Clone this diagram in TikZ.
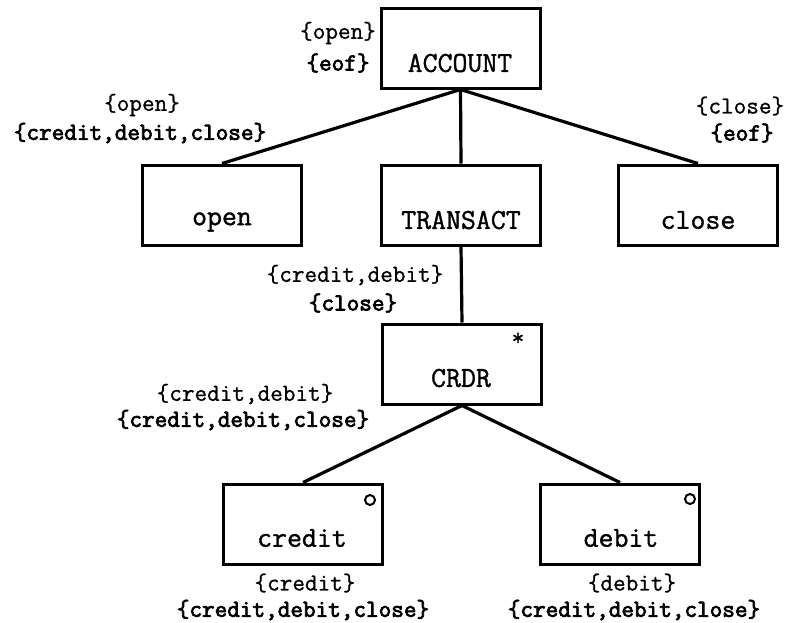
\documentclass[tikz,border=0pt]{standalone}
\usepackage{fontspec}
\newfontfamily\boxfont{Latin Modern Mono}[FakeBold=1.2]
\newfontfamily\infont{Latin Modern Mono}[FakeBold=1]
\newfontfamily\outfont{Latin Modern Mono}[FakeBold=3]
\begin{document}
\begin{tikzpicture}[x=1pt,y=-1pt,
  box/.style={draw,line width=3pt,minimum width=159pt,minimum height=80pt,inner sep=0pt},
  boxtext/.style={font=\boxfont\fontsize{29}{29}\selectfont,inner sep=0pt},
  setin/.style={font=\infont\fontsize{24.5}{24.5}\selectfont,inner sep=0pt},
  setout/.style={font=\outfont\fontsize{24.5}{24.5}\selectfont,inner sep=0pt},
  link/.style={line width=3.2pt},
  ring/.style={draw,line width=2pt,circle,minimum size=10pt,inner sep=0pt}]
\useasboundingbox (0,0) rectangle (787,622);

% boxes of the tree
\node[box] (account)  at (460.5,48) {};
\node[box] (open)     at (222,205)  {};
\node[box] (transact) at (461,205)  {};
\node[box] (close)    at (698,205)  {};
\node[box] (crdr)     at (462,364)  {};
\node[box] (credit)   at (303,524)  {};
\node[box] (debit)    at (620,524)  {};

% names inside the boxes
\node[boxtext] (taccount)  at (460,63)  {ACCOUNT};
\node[boxtext] (topen)     at (222,222) {open};
\node[boxtext] (ttransact) at (461,220) {TRANSACT};
\node[boxtext] (tclose)    at (698,220) {close};
\node[boxtext] (tcrdr)     at (461,378) {CRDR};
\node[boxtext] (tcredit)   at (302,538) {credit};
\node[boxtext] (tdebit)    at (621,538) {debit};

% iteration and option marks
\node[setin] (star) at (518,339) {*};
\node[ring] (ocredit) at (370,500) {};
\node[ring] (odebit)  at (690,499) {};

% connectors
\draw[link] (account.south) -- (open.north);
\draw[link] (account.south) -- (transact.north);
\draw[link] (account.south) -- (close.north);
\draw[link] (transact.south) -- (crdr.north);
\draw[link] (crdr.south) -- (credit.north);
\draw[link] (crdr.south) -- (debit.north);

% first and follow sets
\node[setin]  (fa) at (338,33)  {\{open\}};
\node[setout] (la) at (338,63)  {\{eof\}};
\node[setin]  (fo) at (142,105) {\{open\}};
\node[setout] (lo) at (140,133) {\{credit,debit,close\}};
\node[setin]  (fc) at (740,106) {\{close\}};
\node[setout] (lc) at (742,133) {\{eof\}};
\node[setin]  (ft) at (355,275) {\{credit,debit\}};
\node[setout] (lt) at (353,303) {\{close\}};
\node[setin]  (fr) at (245,394) {\{credit,debit\}};
\node[setout] (lr) at (243,420) {\{credit,debit,close\}};
\node[setin]  (fcr) at (305,583) {\{credit\}};
\node[setout] (lcr) at (303,610) {\{credit,debit,close\}};
\node[setin]  (fd) at (632,583) {\{debit\}};
\node[setout] (ld) at (634,610) {\{credit,debit,close\}};
\end{tikzpicture}
\end{document}
